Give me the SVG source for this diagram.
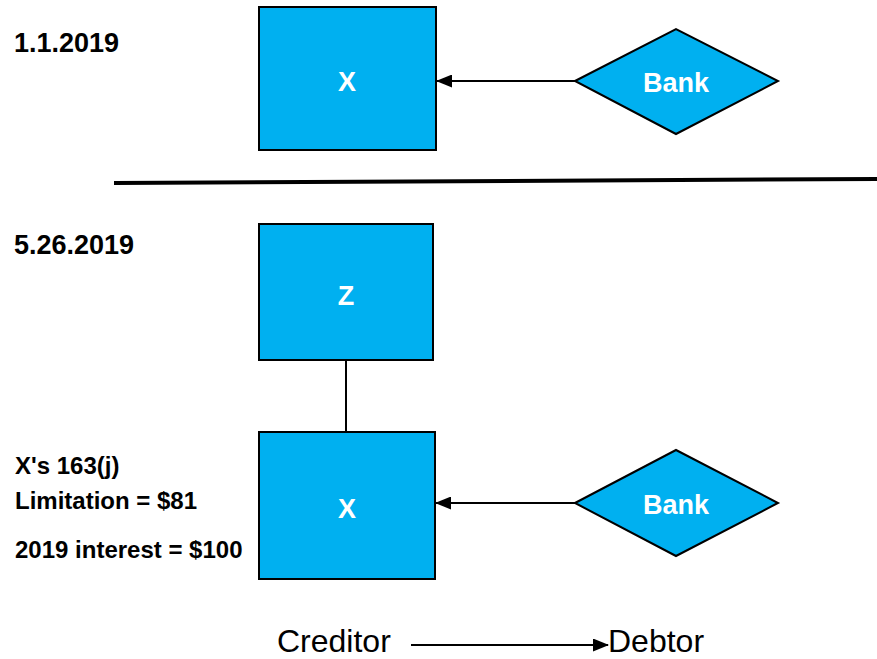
<svg xmlns="http://www.w3.org/2000/svg" width="877" height="659" viewBox="0 0 877 659">
<defs>
<marker id="ah" markerWidth="16" markerHeight="13" refX="15" refY="6.5" orient="auto" markerUnits="userSpaceOnUse">
<path d="M0,0 L16,6.5 L0,13 Z" fill="#000"/>
</marker>
<style>
.node{fill:#00B0F0;stroke:#000;stroke-width:2}
.nt{font-family:"Liberation Sans",Arial,sans-serif;font-weight:bold;font-size:27px;fill:#fff;text-anchor:middle}
.lb{font-family:"Liberation Sans",Arial,sans-serif;font-weight:bold;fill:#000}
.leg{font-family:"Liberation Sans",Arial,sans-serif;font-size:32px;fill:#000}
.conn{stroke:#000;stroke-width:2;fill:none}
</style>
</defs>
<rect width="877" height="659" fill="#fff"/>
<g id="connectors">
<line class="conn" x1="575" y1="81" x2="437" y2="81" marker-end="url(#ah)"/>
<line class="conn" x1="575" y1="503" x2="436" y2="503" marker-end="url(#ah)"/>
<line class="conn" x1="346" y1="360" x2="346" y2="432"/>
<line class="conn" x1="411" y1="645" x2="608" y2="645" marker-end="url(#ah)"/>
</g>
<line x1="114" y1="183" x2="877" y2="179" stroke="#000" stroke-width="4"/>
<g id="x1">
<rect class="node" x="259" y="7" width="177" height="143"/>
<text class="nt" x="347" y="91">X</text>
</g>
<g id="bank1">
<polygon class="node" points="575,81 676,29 778,81 676,134"/>
<text class="nt" x="676" y="92">Bank</text>
</g>
<g id="z">
<rect class="node" x="259" y="224" width="174" height="136"/>
<text class="nt" x="346" y="305">Z</text>
</g>
<g id="x2">
<rect class="node" x="259" y="432" width="176" height="147"/>
<text class="nt" x="347" y="518">X</text>
</g>
<g id="bank2">
<polygon class="node" points="575,503 676,450 778,503 676,556"/>
<text class="nt" x="676" y="514">Bank</text>
</g>
<text class="lb" x="14" y="52" font-size="27">1.1.2019</text>
<text class="lb" x="14" y="254" font-size="27">5.26.2019</text>
<text class="lb" x="15" y="474" font-size="24">X's 163(j)</text>
<text class="lb" x="15" y="509" font-size="24">Limitation = $81</text>
<text class="lb" x="15" y="558" font-size="24">2019 interest = $100</text>
<text class="leg" x="277" y="652">Creditor</text>
<text class="leg" x="608" y="652">Debtor</text>
</svg>
